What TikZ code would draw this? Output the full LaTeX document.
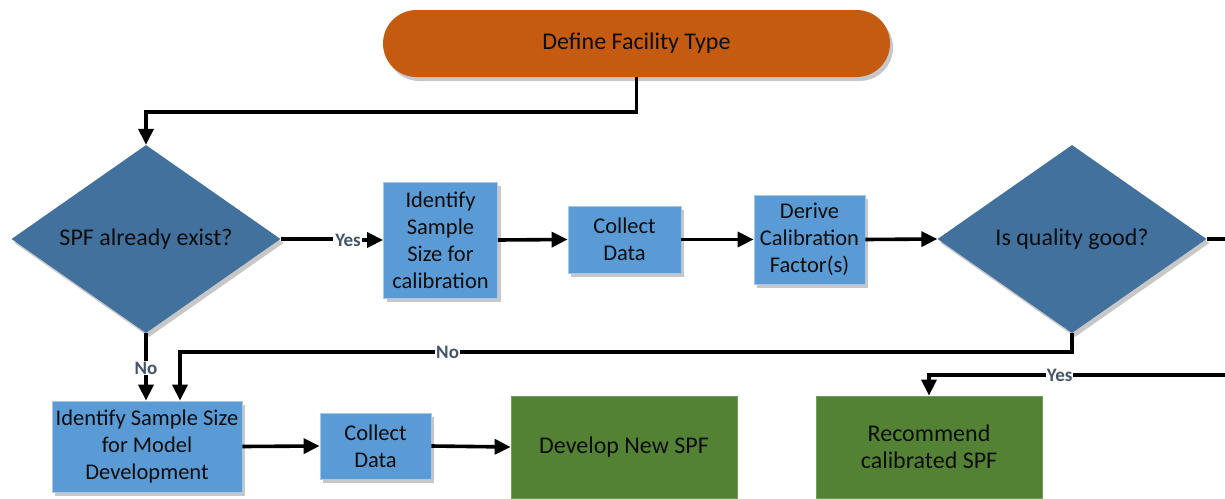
\documentclass[tikz,border=0pt]{standalone}
\usepackage{fontspec}
\setmainfont{Carlito}
\usetikzlibrary{shapes.geometric,shadows,arrows.meta,calc}

\definecolor{termorange}{HTML}{C55A11}
\definecolor{decblue}{HTML}{41719C}
\definecolor{stepblue}{HTML}{5B9BD5}
\definecolor{stepedge}{HTML}{A9C8E8}
\definecolor{endgreen}{HTML}{548235}
\definecolor{lblslate}{HTML}{44546A}

\tikzset{
  softshadow/.style={drop shadow={opacity=0.22,shadow xshift=3pt,shadow yshift=-4pt,fill=black}},
  txt/.style={font=\fontsize{24}{27}\selectfont, text=black!95, align=center, inner sep=0pt},
  smalltxt/.style={font=\fontsize{22.5}{27}\selectfont},
  terminal/.style={txt, rectangle, rounded corners=33.5pt, fill=termorange, softshadow,
    minimum width=507pt, minimum height=67pt},
  decision/.style={txt, diamond, fill=decblue, softshadow, aspect=1.43,
    minimum width=269pt, minimum height=188pt},
  stepbox/.style={txt, smalltxt, rectangle, fill=stepblue, draw=stepedge, line width=0.8pt, softshadow},
  endbox/.style={txt, rectangle, fill=endgreen, draw=endgreen!80!white, line width=0.8pt},
  flow/.style={line width=3.6pt, -{Triangle[length=16pt,width=15pt]}},
  flowplain/.style={line width=3.6pt},
  answer/.style={font=\fontsize{19}{20}\selectfont\bfseries, text=lblslate, fill=white, inner sep=1pt},
}

\begin{document}
\begin{tikzpicture}[x=1pt,y=-1pt]
  \useasboundingbox (0,0) rectangle (1225,498);
  \clip (0,0) rectangle (1225,498);

  % start
  \node[terminal] (start) at (636.5,43.5) {Define Facility Type};

  % decisions
  \node[decision] (exist) at (146,239) {SPF already exist?};
  \node[decision] (quality) at (1072,239) {Is quality good?};

  % calibration branch
  \node[stepbox, minimum width=114pt, minimum height=116pt] (calsize) at (440.5,240)
    {Identify\\Sample\\Size for\\calibration};
  \node[stepbox, minimum width=113pt, minimum height=67pt] (collectA) at (624.5,239.5)
    {Collect\\Data};
  \node[stepbox, minimum width=111pt, minimum height=89pt] (derive) at (809.5,239.5)
    {Derive\\Calibration\\Factor(s)};

  % model development branch
  \node[stepbox, minimum width=190pt, minimum height=91pt] (modsize) at (147,446.5)
    {Identify Sample Size\\for Model\\Development};
  \node[stepbox, minimum width=111pt, minimum height=66pt] (collectB) at (375.5,446)
    {Collect\\Data};

  % outcomes
  \node[endbox, minimum width=226pt, minimum height=102pt] (newspf) at (624,447)
    {Develop New SPF};
  \node[endbox, minimum width=226pt, minimum height=102pt] (recspf) at (929,447)
    {Recommend\\calibrated SPF};

  % loose ends running off the right side
  \coordinate (qright) at (1240,239);
  \coordinate (yesback) at (1240,375);

  % connectors
  \draw[flow] (start.south) -- ++(0,35) -| (exist.north);

  \draw[flowplain] (exist.east) -- (333,239);
  \node[answer] (yesA) at (348,240) {Yes};
  \draw[flow] (yesA.east) -- (calsize.west);

  \draw[flow] (calsize.east) -- (collectA.west);
  \draw[flow] (collectA.east) -- (derive.west);
  \draw[flow] (derive.east) -- (quality.west);
  \draw[flowplain] (quality.east) -- (qright);

  \draw[flow] (exist.south) -- (exist.south |- modsize.north)
    node[answer, pos=0.52] {No};

  \draw[flow] (quality.south) -- ++(0,19) -| ([xshift=33pt]modsize.north)
    node[answer, pos=0.35] {No};

  \draw[flow] (yesback) -| (recspf.north)
    node[answer, pos=0.29] {Yes};

  \draw[flow] (modsize.east) -- (collectB.west);
  \draw[flow] (collectB.east) -- (newspf.west);
\end{tikzpicture}
\end{document}
